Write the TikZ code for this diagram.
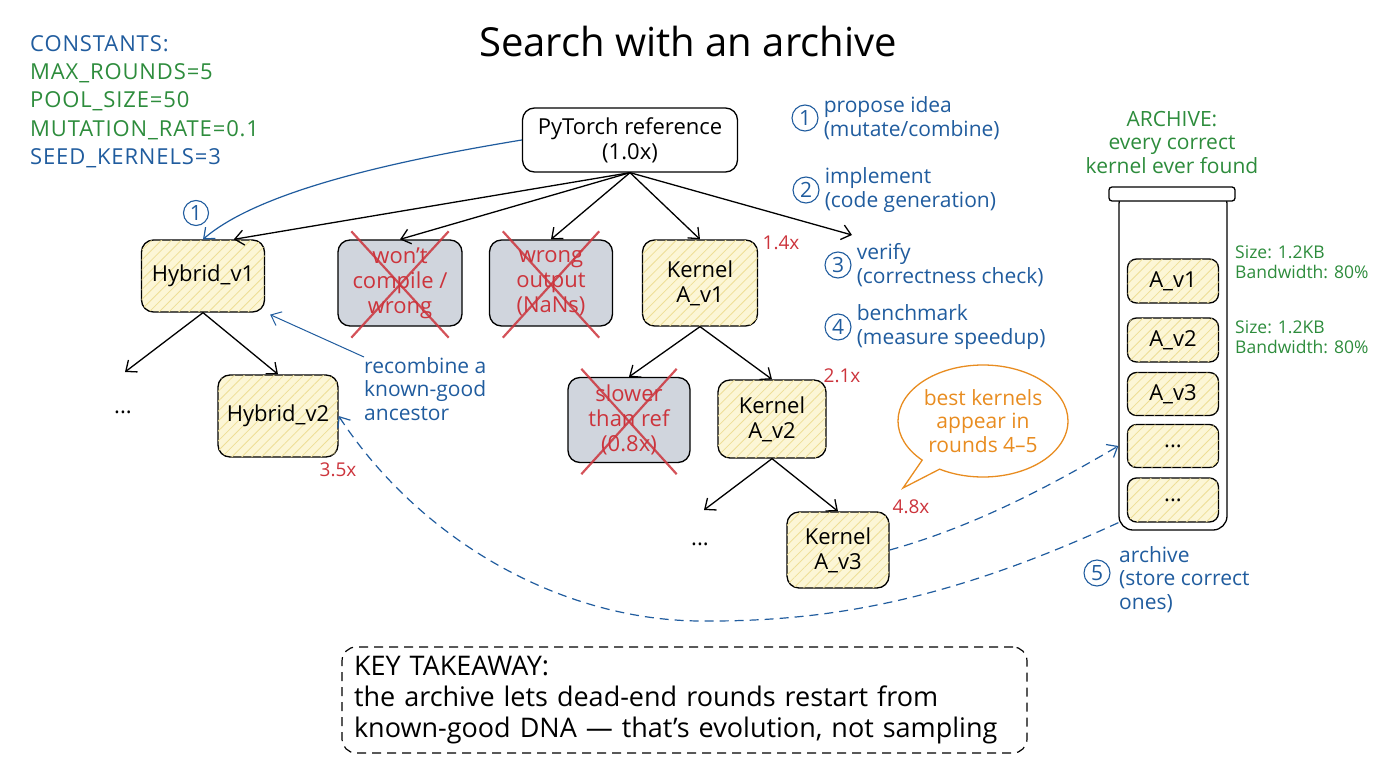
\documentclass[tikz,border=0pt]{standalone}
\usepackage{fontspec}
\setmainfont{Open Sans}
\usetikzlibrary{arrows.meta,patterns.meta,shapes.callouts,shapes.geometric,positioning}

\definecolor{skblue}{RGB}{32,92,158}
\definecolor{skgreen}{RGB}{45,140,60}
\definecolor{skred}{RGB}{204,52,60}
\definecolor{skorange}{RGB}{232,140,32}
\definecolor{yfill}{RGB}{252,246,214}
\definecolor{yhatch}{RGB}{238,222,150}
\definecolor{gfill}{RGB}{208,213,221}

\newcommand\mynodefont{\fontsize{22}{25}\selectfont}
\newcommand\mystepfont{\fontsize{21}{23.5}\selectfont}
\newcommand\myconstfont{\fontsize{22}{28.3}\selectfont\addfontfeature{LetterSpace=4}}
\newcommand\mytitlefont{\fontsize{40}{44}\selectfont}
\newcommand\mysmallfont{\fontsize{17.5}{20.5}\selectfont}
\newcommand\myspeedfont{\fontsize{19}{22}\selectfont}
\newcommand\mykeyfont{\fontsize{27}{31}\selectfont}

\tikzset{
  box/.style={draw=black, line width=1.3pt, rounded corners=12pt, align=center, font=\mynodefont, inner sep=2pt},
  good/.style={box, fill=yfill, postaction={pattern={Lines[angle=45,distance=7pt,line width=0.8pt]}, pattern color=yhatch}},
  bad/.style={box, fill=gfill, text=skred},
  cross/.style={draw=skred, line width=2.2pt, opacity=0.85},
  arr/.style={-{Straight Barb[length=9pt,width=15pt]}, line width=1.3pt, draw=black},
  barr/.style={-{Straight Barb[length=9pt,width=15pt]}, line width=1.2pt, draw=skblue},
  dsh/.style={dash pattern=on 9pt off 6pt},
  num/.style={circle, draw=skblue, line width=1.1pt, text=skblue, font=\mystepfont, inner sep=1pt, minimum size=26pt},
  steptext/.style={text=skblue, font=\mystepfont, align=left, inner sep=0pt},
  speed/.style={text=skred, font=\myspeedfont},
  greentext/.style={text=skgreen, font=\mystepfont, align=center},
}

\begin{document}
\begin{tikzpicture}[x=1pt,y=-1pt]
\useasboundingbox (0,0) rectangle (1376,768);

% title and constants
\node[font=\mytitlefont] (title) at (688,42) {Search with an archive};
\node[anchor=north west, align=left, font=\myconstfont, inner sep=0pt] (const) at (30,35)
  {\textcolor{skblue}{CONSTANTS:}\\
   \textcolor{skgreen}{MAX\_ROUNDS=5}\\
   \textcolor{skgreen}{POOL\_SIZE=50}\\
   \textcolor{skgreen}{MUTATION\_RATE=0.1}\\
   \textcolor{skblue}{SEED\_KERNELS=3}};

% tree nodes
\node[box, fill=white, minimum width=215pt, minimum height=64pt] (py) at (630,140) {PyTorch reference\\(1.0x)};
\node[good, minimum width=123pt, minimum height=72pt] (h1) at (203,276) {Hybrid\_v1};
\node[good, minimum width=120pt, minimum height=82pt] (h2) at (278,416) {Hybrid\_v2};
\node[bad, minimum width=124pt, minimum height=86pt] (wc) at (400,283) {won't\\compile /\\wrong};
\node[bad, minimum width=123pt, minimum height=86pt] (wo) at (551,283) {wrong\\output\\(NaNs)};
\node[good, minimum width=115pt, minimum height=86pt] (a1) at (700,283) {Kernel\\A\_v1};
\node[bad, minimum width=122pt, minimum height=85pt] (sl) at (629,420) {slower\\than ref\\(0.8x)};
\node[good, minimum width=108pt, minimum height=78pt] (a2) at (772,419) {Kernel\\A\_v2};
\node[good, minimum width=102pt, minimum height=76pt] (a3) at (838,550) {Kernel\\A\_v3};

% crosses
\foreach \n in {wc,wo,sl}{
  \draw[cross] ([shift={(14pt,8pt)}]\n.north west) -- ([shift={(-14pt,-11pt)}]\n.south east);
  \draw[cross] ([shift={(-14pt,8pt)}]\n.north east) -- ([shift={(14pt,-11pt)}]\n.south west);
}

% speed labels and dots
\node[speed] (s14) at (781,243) {1.4x};
\node[speed] (s35) at (338,470) {3.5x};
\node[speed] (s21) at (842,376) {2.1x};
\node[speed] (s48) at (911,507) {4.8x};
\node[font=\mynodefont] (d1) at (123,412) {...};
\node[font=\mynodefont] (d2) at (700,544) {...};

% free ends
\coordinate (hL) at (125,372);
\coordinate (a2L) at (704,510);
\coordinate (pyR) at (852,235);

% tree arrows
\draw[arr] (py.south) -- (h1.50);
\draw[arr] (py.south) -- (wc.north);
\draw[arr] (py.south) -- (wo.north);
\draw[arr] (py.south) -- (a1.north);
\draw[arr] (py.south) -- (pyR);
\draw[arr] (h1.south) -- (hL);
\draw[arr] (h1.south) -- (h2.north);
\draw[arr] (a1.south) -- (sl.north);
\draw[arr] (a1.south) -- (a2.north);
\draw[arr] (a2.south) -- (a2L);
\draw[arr] (a2.south) -- (a3.north);

% blue annotations near left
\node[num, minimum size=25pt] (n1a) at (196,213) {1};
\draw[barr] (py.west) .. controls (400,160) and (260,190) .. (h1.north);
\node[steptext, anchor=north west] (rec) at (364,357) {recombine a\\known-good\\ancestor};
\draw[barr, line width=1pt] (rec.north west) -- ([shift={(5pt,-2pt)}]h1.south east);

% steps
\node[num] (c1) at (805,118) {1};
\node[steptext, right=5pt of c1] (t1) {propose idea\\(mutate/combine)};
\node[num] (c2) at (806,190) {2};
\node[steptext, right=5pt of c2] (t2) {implement\\(code generation)};
\node[num] (c3) at (838,265) {3};
\node[steptext, right=5pt of c3] (t3) {verify\\(correctness check)};
\node[num] (c4) at (838,327) {4};
\node[steptext, right=5pt of c4] (t4) {benchmark\\(measure speedup)};
\node[num] (c5) at (1097,573) {5};
\node[steptext, anchor=north west] (t5) at (1119,546) {archive\\(store correct\\ones)};

% archive
\node[greentext] (ah) at (1172,142) {ARCHIVE:\\every correct\\kernel ever found};
\node[draw, line width=1.3pt, rounded corners=14pt, minimum width=108pt, minimum height=340pt, inner sep=0pt] (body) at (1173,360) {};
\node[draw, fill=white, line width=1.3pt, rounded corners=3pt, minimum width=126pt, minimum height=14pt, inner sep=0pt] (lid) at (1172,194) {};
\node[good, rounded corners=9pt, minimum width=91pt, minimum height=44pt] (e1) at (1173,281) {A\_v1};
\node[good, rounded corners=9pt, minimum width=91pt, minimum height=44pt] (e2) at (1173,340) {A\_v2};
\node[good, rounded corners=9pt, minimum width=91pt, minimum height=43pt] (e3) at (1173,394) {A\_v3};
\node[good, rounded corners=9pt, minimum width=91pt, minimum height=43pt] (e4) at (1173,446) {...};
\node[good, rounded corners=9pt, minimum width=91pt, minimum height=44pt] (e5) at (1173,500) {...};
\node[text=skgreen, font=\mysmallfont, align=left, anchor=north west, inner sep=0pt] (z1) at (1235,245) {Size: 1.2KB\\Bandwidth: 80\%};
\node[text=skgreen, font=\mysmallfont, align=left, anchor=north west, inner sep=0pt] (z2) at (1235,320) {Size: 1.2KB\\Bandwidth: 80\%};

% bubble
\node[ellipse callout, draw=skorange, line width=1.3pt, text=skorange, font=\mystepfont, align=center,
      minimum width=170pt, minimum height=112pt, inner xsep=-14pt, inner ysep=-10pt,
      callout absolute pointer={(903,488)}] (bub) at (983,421) {best kernels\\appear in\\rounds 4--5};

% dashed archive arrows
\draw[barr, dsh] (a3.east) .. controls (980,525) and (1060,480) .. (body.west |- e4.center);
\draw[barr, dsh] (body.west |- e5.south) .. controls (950,600) and (830,622) .. (700,621)
   .. controls (560,620) and (420,540) .. (h2.east);

% takeaway
\node[draw, dsh, line width=1.2pt, rounded corners=14pt, font=\mykeyfont, align=left,
      text width=661pt, inner xsep=12pt, minimum height=106pt] (kt) at (684.5,700)
  {KEY TAKEAWAY:\\the archive lets dead-end rounds restart from\\known-good DNA — that's evolution, not sampling};
\end{tikzpicture}
\end{document}
